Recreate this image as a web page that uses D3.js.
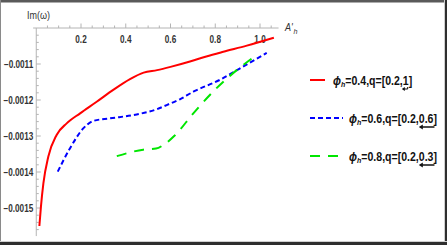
<!DOCTYPE html>
<html>
<head>
<meta charset="utf-8">
<script src="https://cdn.jsdelivr.net/npm/d3@7"></script>
<style>
  body { margin: 0; background: #fff; }
  svg { display: block; font-family: "Liberation Sans", Arial, sans-serif; }
</style>
</head>
<body>
<div id="chart"></div>
<script>
// data
var redX = [0.014, 0.021, 0.032, 0.054, 0.091, 0.136, 0.196, 0.270, 0.344, 0.419, 0.480, 0.540, 0.600, 0.687, 0.760, 0.836, 0.941, 1.062];
var redY = [-0.00155, -0.001496, -0.001431, -0.001357, -0.001297, -0.001265, -0.001237, -0.001205, -0.001172, -0.001142, -0.001124, -0.001117, -0.001108, -0.001093, -0.001079, -0.001066, -0.001049, -0.001027];
var blueX = [0.096, 0.151, 0.210, 0.255, 0.330, 0.449, 0.538, 0.583, 0.642, 0.702, 0.821, 0.911, 1.030];
var blueY = [-0.001399, -0.001334, -0.001279, -0.001258, -0.001251, -0.00124, -0.001226, -0.001214, -0.001198, -0.001177, -0.001144, -0.001112, -0.001069];
var greenX = [0.360, 0.478, 0.535, 0.575, 0.620, 0.702, 0.806, 0.896, 0.978];
var greenY = [-0.001356, -0.001338, -0.001335, -0.001322, -0.001298, -0.001237, -0.001167, -0.001117, -0.001078];
var xTicks = [0.2, 0.4, 0.6, 0.8, 1.0];
var yTicks = [-0.0011, -0.0012, -0.0013, -0.0014, -0.0015];
var legendLabels = [
  { h: "=0.4,q=[0.2,", last: "1", color: "#ff0000", dash: null },
  { h: "=0.6,q=[0.2,", last: "0.6", color: "#0000ff", dash: "5,3" },
  { h: "=0.8,q=[0.2,", last: "0.3", color: "#00e600", dash: "10,8" }
];

var svgWidth = 447, svgHeight = 245;
var narrow = 0.82; // squeeze text, the original font is a condensed one

var svg = d3.select("#chart").append("svg")
  .attr("width", svgWidth)
  .attr("height", svgHeight);

svg.append("rect").attr("width", svgWidth).attr("height", svgHeight).attr("fill", "#fff");

// frame of the screenshot
svg.append("rect").attr("x", 0).attr("y", 0).attr("width", svgWidth).attr("height", 2.5).attr("fill", "#5a5a5a");
svg.append("rect").attr("x", 0).attr("y", 0).attr("width", 1).attr("height", svgHeight).attr("fill", "#8a8a8a");
svg.append("rect").attr("x", 444).attr("y", 0).attr("width", 1).attr("height", svgHeight).attr("fill", "#cfcfcf");
svg.append("rect").attr("x", 445).attr("y", 0).attr("width", 2).attr("height", svgHeight).attr("fill", "#2e2e2e");
svg.append("rect").attr("x", 0).attr("y", 241).attr("width", svgWidth).attr("height", 1).attr("fill", "#cfcfcf");
svg.append("rect").attr("x", 0).attr("y", 242).attr("width", svgWidth).attr("height", 3).attr("fill", "#2e2e2e");

var xScale = d3.scaleLinear().domain([0, 1]).range([36.25, 260]);
var yScale = d3.scaleLinear().domain([-0.001, -0.0011]).range([28, 64]);

var axisColor = "#b4b4b4";

// x axis (ticks point up, labels below)
var xAxis = svg.append("g").attr("transform", "translate(0," + yScale(-0.001) + ")");
xAxis.append("line")
  .attr("x1", xScale(-0.014)).attr("x2", xScale(1.083))
  .attr("stroke", axisColor).attr("stroke-width", 1);
var xMinor = d3.range(1, 22).map(d => d * 0.05).filter(d => d <= 1.08);
xAxis.selectAll(".xminor").data(xMinor).enter().append("line")
  .attr("x1", d => xScale(d)).attr("x2", d => xScale(d))
  .attr("y1", 0).attr("y2", d => xTicks.some(t => Math.abs(t - d) < 1e-6) ? -4.5 : -2.5)
  .attr("stroke", axisColor);
xAxis.selectAll(".xlab").data(xTicks).enter().append("text")
  .attr("transform", d => "translate(" + xScale(d) + ",15) scale(" + narrow + ",1)")
  .attr("text-anchor", "middle")
  .attr("font-size", "10px").attr("font-weight", "bold").attr("fill", "#333")
  .text(d => d3.format(".1f")(d));

// y axis (ticks point right, labels left)
var yAxis = svg.append("g").attr("transform", "translate(" + xScale(0) + ",0)");
yAxis.append("line")
  .attr("y1", yScale(-0.001)).attr("y2", yScale(-0.001578))
  .attr("stroke", axisColor);
var yMinor = d3.range(1, 29).map(d => -0.001 - d * 0.00002);
yAxis.selectAll(".yminor").data(yMinor).enter().append("line")
  .attr("y1", d => yScale(d)).attr("y2", d => yScale(d))
  .attr("x1", 0).attr("x2", d => yTicks.some(t => Math.abs(t - d) < 1e-9) ? 4.5 : 2.5)
  .attr("stroke", axisColor);
yAxis.selectAll(".ylab").data(yTicks).enter().append("text")
  .attr("transform", d => "translate(-3," + yScale(d) + ") scale(" + narrow + ",1)")
  .attr("dy", "0.35em")
  .attr("text-anchor", "end")
  .attr("font-size", "10px").attr("font-weight", "bold").attr("fill", "#333")
  .text(d => "\u22120.00" + Math.round(-d * 10000));

// axis titles
svg.append("text").attr("transform", "translate(27,19) scale(" + narrow + ",1)")
  .attr("font-size", "11px").attr("fill", "#333").text("Im(\u03c9)");
var xt = svg.append("text").attr("transform", "translate(285,31) scale(0.9,1)")
  .attr("font-size", "10px").attr("font-style", "italic").attr("fill", "#333");
xt.append("tspan").text("A'");
xt.append("tspan").attr("dx", 1).attr("dy", 3).attr("font-size", "8px").text("h");

// curves
var line = d3.line()
  .x(d => xScale(d[0]))
  .y(d => yScale(d[1]))
  .curve(d3.curveMonotoneX);

var series = [
  d3.zip(redX, redY),
  d3.zip(blueX, blueY),
  d3.zip(greenX, greenY)
];
svg.selectAll(".curve").data(series).enter().append("path")
  .attr("d", line)
  .attr("fill", "none")
  .attr("stroke", (d, i) => legendLabels[i].color)
  .attr("stroke-width", 2)
  .attr("stroke-dasharray", (d, i) => legendLabels[i].dash);

// legend
var legY = [80, 118, 156];
var legLineX = [[310, 325], [310, 343], [310, 342]];
var legTextX = [333, 349, 349];
var legend = svg.selectAll(".leg").data(legendLabels).enter().append("g");
legend.append("line")
  .attr("x1", (d, i) => legLineX[i][0]).attr("x2", (d, i) => legLineX[i][1])
  .attr("y1", (d, i) => legY[i]).attr("y2", (d, i) => legY[i])
  .attr("stroke", d => d.color).attr("stroke-width", 2)
  .attr("stroke-dasharray", d => d.dash);
var legScale = 0.88;
var lt = legend.append("text")
  .attr("transform", (d, i) => "translate(" + legTextX[i] + "," + (legY[i] + 5) + ") scale(" + legScale + ",1)")
  .attr("font-size", "12px").attr("font-weight", "bold").attr("fill", "#111");
lt.append("tspan").attr("font-style", "italic").text("\u03d5");
lt.append("tspan").attr("font-style", "italic").attr("font-size", "8px").attr("dy", 2).text("h");
lt.append("tspan").attr("dy", -2).text(d => d.h);
lt.append("tspan").attr("class", "last").text(d => d.last);
lt.append("tspan").text("]");

// little arrows under the last value
legend.each(function(d, i) {
  var g = d3.select(this);
  var t = g.select("tspan.last").node();
  var start = legTextX[i] + t.getStartPositionOfChar(0).x * legScale;
  var end = legTextX[i] + t.getEndPositionOfChar(d.last.length - 1).x * legScale;
  var y = legY[i] + 9;
  if (i === 0) {
    g.append("path")
      .attr("d", "M" + (end - 1) + "," + (y - 2) + "V" + y + "H" + (start + 1))
      .attr("fill", "none").attr("stroke", "#111").attr("stroke-width", 1);
    g.append("path")
      .attr("d", "M" + (start - 1) + "," + y + "l3,-2v4z").attr("fill", "#111");
  } else {
    g.append("line")
      .attr("x1", start + 2).attr("x2", end + 1).attr("y1", y).attr("y2", y)
      .attr("stroke", "#111").attr("stroke-width", 1.5);
    g.append("path")
      .attr("d", "M" + start + "," + y + "l4,-2.5v5z").attr("fill", "#111");
  }
});
</script>
</body>
</html>
